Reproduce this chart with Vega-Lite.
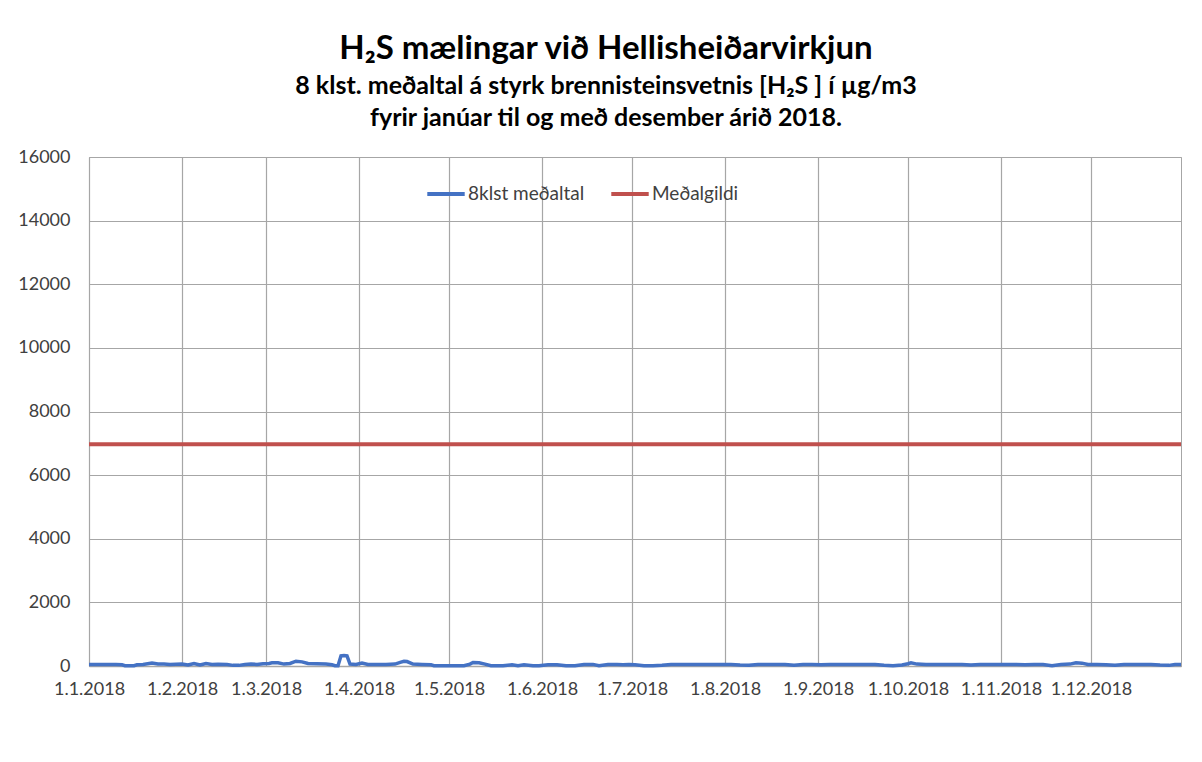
{
  "$schema": "https://vega.github.io/schema/vega-lite/v6.json",
  "width": 1092,
  "height": 509,
  "autosize": {"type": "none"},
  "padding": {"left": 89, "top": 157, "right": 21, "bottom": 96},
  "background": "white",
  "config": {
    "view": {"stroke": "#A6A6A6", "strokeWidth": 1},
    "font": "Lato"
  },
  "title": {
    "text": "H₂S mælingar við Hellisheiðarvirkjun",
    "subtitle": ["8 klst. meðaltal á styrk brennisteinsvetnis [H₂S ] í µg/m3", "fyrir janúar til og með desember árið 2018."],
    "anchor": "middle",
    "frame": "group",
    "dx": -29,
    "offset": 17,
    "font": "Lato",
    "fontSize": 33,
    "fontWeight": "bold",
    "color": "#000000",
    "subtitleFont": "Lato",
    "subtitleFontSize": 25,
    "subtitleFontWeight": "bold",
    "subtitleColor": "#000000",
    "subtitleLineHeight": 32,
    "subtitlePadding": 8
  },
  "datasets": {
    "s8": [
      {"d": "2018-01-01", "v": 50}, {"d": "2018-01-04", "v": 50}, {"d": "2018-01-07", "v": 45}, {"d": "2018-01-10", "v": 50}, {"d": "2018-01-12", "v": 40}, {"d": "2018-01-13", "v": 10}, {"d": "2018-01-16", "v": 10}, {"d": "2018-01-17", "v": 40}, {"d": "2018-01-19", "v": 50}, {"d": "2018-01-22", "v": 90}, {"d": "2018-01-24", "v": 60}, {"d": "2018-01-26", "v": 60}, {"d": "2018-01-28", "v": 50}, {"d": "2018-01-30", "v": 55},
      {"d": "2018-02-01", "v": 60}, {"d": "2018-02-03", "v": 30}, {"d": "2018-02-05", "v": 80}, {"d": "2018-02-07", "v": 30}, {"d": "2018-02-09", "v": 80}, {"d": "2018-02-11", "v": 50}, {"d": "2018-02-13", "v": 55}, {"d": "2018-02-16", "v": 50}, {"d": "2018-02-18", "v": 20}, {"d": "2018-02-20", "v": 20}, {"d": "2018-02-22", "v": 50}, {"d": "2018-02-24", "v": 60}, {"d": "2018-02-26", "v": 50}, {"d": "2018-02-28", "v": 70},
      {"d": "2018-03-02", "v": 80}, {"d": "2018-03-03", "v": 100}, {"d": "2018-03-05", "v": 100}, {"d": "2018-03-07", "v": 60}, {"d": "2018-03-09", "v": 80}, {"d": "2018-03-11", "v": 150}, {"d": "2018-03-13", "v": 130}, {"d": "2018-03-15", "v": 80}, {"d": "2018-03-18", "v": 70}, {"d": "2018-03-21", "v": 60}, {"d": "2018-03-23", "v": 40}, {"d": "2018-03-24", "v": 10}, {"d": "2018-03-25", "v": 10}, {"d": "2018-03-26", "v": 320}, {"d": "2018-03-27", "v": 330}, {"d": "2018-03-28", "v": 320}, {"d": "2018-03-29", "v": 60}, {"d": "2018-03-31", "v": 50},
      {"d": "2018-04-02", "v": 90}, {"d": "2018-04-04", "v": 50}, {"d": "2018-04-07", "v": 50}, {"d": "2018-04-10", "v": 50}, {"d": "2018-04-13", "v": 60}, {"d": "2018-04-15", "v": 120}, {"d": "2018-04-16", "v": 150}, {"d": "2018-04-17", "v": 140}, {"d": "2018-04-19", "v": 60}, {"d": "2018-04-22", "v": 50}, {"d": "2018-04-25", "v": 40}, {"d": "2018-04-26", "v": 10}, {"d": "2018-04-30", "v": 10},
      {"d": "2018-05-03", "v": 10}, {"d": "2018-05-06", "v": 10}, {"d": "2018-05-08", "v": 60}, {"d": "2018-05-09", "v": 110}, {"d": "2018-05-11", "v": 100}, {"d": "2018-05-13", "v": 60}, {"d": "2018-05-15", "v": 10}, {"d": "2018-05-19", "v": 10}, {"d": "2018-05-22", "v": 40}, {"d": "2018-05-24", "v": 10}, {"d": "2018-05-26", "v": 40}, {"d": "2018-05-29", "v": 10}, {"d": "2018-05-31", "v": 10},
      {"d": "2018-06-03", "v": 40}, {"d": "2018-06-06", "v": 40}, {"d": "2018-06-09", "v": 10}, {"d": "2018-06-12", "v": 10}, {"d": "2018-06-15", "v": 50}, {"d": "2018-06-18", "v": 50}, {"d": "2018-06-20", "v": 10}, {"d": "2018-06-23", "v": 50}, {"d": "2018-06-26", "v": 50}, {"d": "2018-06-28", "v": 40}, {"d": "2018-06-30", "v": 50},
      {"d": "2018-07-02", "v": 40}, {"d": "2018-07-05", "v": 10}, {"d": "2018-07-08", "v": 10}, {"d": "2018-07-11", "v": 20}, {"d": "2018-07-14", "v": 50}, {"d": "2018-07-17", "v": 50}, {"d": "2018-07-20", "v": 50}, {"d": "2018-07-23", "v": 50}, {"d": "2018-07-26", "v": 50}, {"d": "2018-07-29", "v": 50}, {"d": "2018-07-31", "v": 50},
      {"d": "2018-08-03", "v": 50}, {"d": "2018-08-06", "v": 30}, {"d": "2018-08-09", "v": 20}, {"d": "2018-08-12", "v": 50}, {"d": "2018-08-15", "v": 50}, {"d": "2018-08-18", "v": 50}, {"d": "2018-08-21", "v": 50}, {"d": "2018-08-24", "v": 20}, {"d": "2018-08-27", "v": 50}, {"d": "2018-08-30", "v": 50},
      {"d": "2018-09-02", "v": 40}, {"d": "2018-09-05", "v": 50}, {"d": "2018-09-08", "v": 50}, {"d": "2018-09-11", "v": 50}, {"d": "2018-09-14", "v": 50}, {"d": "2018-09-17", "v": 50}, {"d": "2018-09-20", "v": 50}, {"d": "2018-09-23", "v": 20}, {"d": "2018-09-26", "v": 10}, {"d": "2018-09-29", "v": 30},
      {"d": "2018-10-01", "v": 70}, {"d": "2018-10-02", "v": 100}, {"d": "2018-10-04", "v": 60}, {"d": "2018-10-07", "v": 50}, {"d": "2018-10-10", "v": 50}, {"d": "2018-10-13", "v": 50}, {"d": "2018-10-16", "v": 50}, {"d": "2018-10-19", "v": 50}, {"d": "2018-10-22", "v": 30}, {"d": "2018-10-25", "v": 50}, {"d": "2018-10-28", "v": 50}, {"d": "2018-10-31", "v": 50},
      {"d": "2018-11-03", "v": 50}, {"d": "2018-11-06", "v": 50}, {"d": "2018-11-09", "v": 40}, {"d": "2018-11-12", "v": 50}, {"d": "2018-11-15", "v": 50}, {"d": "2018-11-18", "v": 10}, {"d": "2018-11-21", "v": 50}, {"d": "2018-11-24", "v": 60}, {"d": "2018-11-26", "v": 100}, {"d": "2018-11-28", "v": 90}, {"d": "2018-11-30", "v": 50},
      {"d": "2018-12-03", "v": 50}, {"d": "2018-12-06", "v": 40}, {"d": "2018-12-09", "v": 20}, {"d": "2018-12-12", "v": 50}, {"d": "2018-12-15", "v": 50}, {"d": "2018-12-18", "v": 50}, {"d": "2018-12-21", "v": 50}, {"d": "2018-12-24", "v": 30}, {"d": "2018-12-27", "v": 20}, {"d": "2018-12-29", "v": 50}, {"d": "2018-12-31", "v": 50}
    ],
    "mean": [
      {"d": "2018-01-01", "v": 6970},
      {"d": "2018-12-31", "v": 6970}
    ]
  },
  "encoding": {
    "x": {
      "field": "d",
      "type": "temporal",
      "timeUnit": "yearmonthdate",
      "scale": {"domain": ["2018-01-01", "2018-12-31"]},
      "axis": {
        "title": null,
        "format": "%-d.%-m.%Y",
        "tickCount": {"interval": "month", "step": 1},
        "labelFont": "Lato",
        "labelFontSize": 18,
        "labelColor": "#404040",
        "labelPadding": 14,
        "labelFlush": false,
        "labelOverlap": false,
        "ticks": false,
        "grid": true,
        "gridColor": "#A6A6A6",
        "gridWidth": 1.2,
        "domainColor": "#A6A6A6",
        "domainWidth": 1.5
      }
    },
    "y": {
      "field": "v",
      "type": "quantitative",
      "scale": {"domain": [0, 16000]},
      "axis": {
        "title": null,
        "values": [0, 2000, 4000, 6000, 8000, 10000, 12000, 14000, 16000],
        "format": "d",
        "labelFont": "Lato",
        "labelFontSize": 18,
        "labelColor": "#404040",
        "labelPadding": 19,
        "ticks": false,
        "domain": false,
        "grid": true,
        "gridColor": "#A6A6A6",
        "gridWidth": 1.2
      }
    },
    "color": {
      "field": "serie",
      "type": "nominal",
      "scale": {"domain": ["8klst meðaltal", "Meðalgildi"], "range": ["#4472C4", "#C0504D"]},
      "legend": {
        "title": null,
        "orient": "none",
        "legendX": 336,
        "legendY": 16,
        "direction": "horizontal",
        "symbolType": "stroke",
        "symbolSize": 1400,
        "symbolStrokeWidth": 4,
        "labelFont": "Lato",
        "labelFontSize": 19,
        "labelColor": "#404040",
        "labelOffset": 1,
        "columnPadding": 18
      }
    }
  },
  "layer": [
    {
      "data": {"name": "s8"},
      "transform": [{"calculate": "'8klst meðaltal'", "as": "serie"}],
      "mark": {"type": "line", "strokeWidth": 3.5, "interpolate": "linear"}
    },
    {
      "data": {"name": "mean"},
      "transform": [{"calculate": "'Meðalgildi'", "as": "serie"}],
      "mark": {"type": "line", "strokeWidth": 4}
    }
  ]
}
